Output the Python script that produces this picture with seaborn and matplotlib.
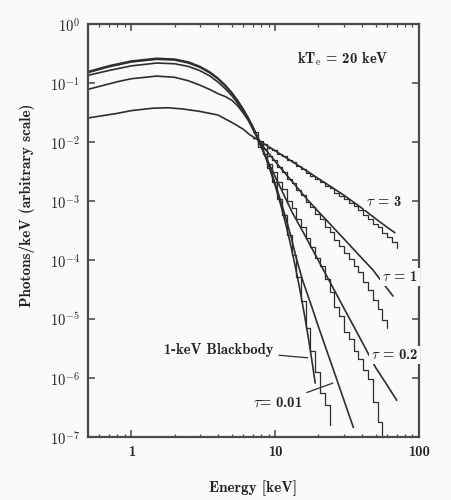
import matplotlib
matplotlib.use("Agg")
import matplotlib.pyplot as plt
import seaborn as sns
from matplotlib.ticker import LogLocator, NullLocator

# ---- smooth (analytic) spectra: energy [keV] vs photons/keV ----
bb_e = [0.5, 0.7, 1.0, 1.5, 2.0, 2.5, 3.0, 3.5, 4.0, 4.5, 5.0, 5.5, 6.0, 6.5, 7.0,
        7.5, 8.0, 9.0, 10.0, 11.0, 12.0, 13.0, 14.0, 15.0, 16.0, 17.0, 18.0, 19.0]
bb_v = [0.156, 0.196, 0.236, 0.262, 0.254, 0.227, 0.191, 0.155, 0.121, 0.0924,
        0.0689, 0.0504, 0.0363, 0.0258, 0.0182, 0.0126, 0.0087, 0.00406, 0.00184,
        8.2e-4, 3.6e-4, 1.55e-4, 6.6e-5, 2.8e-5, 1.17e-5, 4.9e-6, 2.0e-6, 8.2e-7]

t001_e = [0.5, 0.7, 1.0, 1.5, 2.0, 2.5, 3.0, 3.5, 4.0, 4.5, 5.0, 5.5, 6.0, 6.5, 7.0,
          7.5, 8.0, 9.0, 10.0, 11.0, 12.0, 13.0, 14.0, 15.5, 18.0, 20.0, 25.0,
          30.0, 35.0]
t001_v = [0.150, 0.188, 0.227, 0.252, 0.245, 0.218, 0.184, 0.149, 0.117, 0.089,
          0.067, 0.049, 0.0355, 0.0252, 0.018, 0.0125, 0.0088, 0.0042, 0.0020,
          9.6e-4, 4.7e-4, 2.3e-4, 1.1e-4, 4.6e-5, 1.6e-5, 7.4e-6, 1.55e-6,
          4.3e-7, 1.45e-7]

t02_e = [0.5, 0.7, 1.0, 1.5, 2.0, 2.5, 3.0, 3.5, 4.0, 4.5, 5.0, 5.5, 6.0, 6.5, 7.0,
         7.5, 8.0, 10.0, 13.2, 16.0, 20.0, 25.0, 30.0, 35.0, 42.0, 50.0, 60.0, 70.0]
t02_v = [0.135, 0.163, 0.195, 0.218, 0.212, 0.191, 0.162, 0.1325, 0.104, 0.0804,
         0.061, 0.0454, 0.033, 0.0237, 0.017, 0.0118, 0.0082, 0.0026, 6.3e-4,
         2.7e-4, 9.8e-5, 3.55e-5, 1.54e-5, 7.7e-6, 3.35e-6, 1.5e-6, 7.6e-7, 4.2e-7]

t1_e = [0.5, 0.8, 1.0, 1.5, 2.0, 2.5, 3.0, 3.5, 4.0, 4.5, 5.0, 5.5, 6.0, 6.5, 7.0,
        7.5, 8.0, 10.0, 13.0, 16.85, 20.0, 25.0, 30.0, 40.0, 47.8, 56.0, 66.0]
t1_v = [0.078, 0.105, 0.118, 0.131, 0.125, 0.109, 0.092, 0.078, 0.066, 0.059,
        0.051, 0.041, 0.031, 0.0235, 0.0165, 0.0122, 0.0092, 0.0047, 0.0022,
        1.04e-3, 6.6e-4, 3.7e-4, 2.3e-4, 1.08e-4, 6.8e-5, 4.1e-5, 2.45e-5]

t3_e = [0.5, 0.8, 1.0, 1.4, 1.8, 2.3, 3.0, 4.0, 5.0, 6.0, 6.6, 7.67, 10.0, 15.0,
        20.0, 30.0, 40.0, 50.0, 60.0, 68.0]
t3_v = [0.0255, 0.0306, 0.034, 0.0373, 0.0381, 0.0362, 0.033, 0.0287, 0.0215,
        0.0165, 0.0135, 0.0107, 7.1e-3, 3.8e-3, 2.4e-3, 1.26e-3, 7.6e-4, 5.0e-4,
        3.6e-4, 2.9e-4]

# ---- Monte Carlo histograms: bin edges [keV]; last value closes the line ----
mc_edges = [7.0, 7.6, 8.2, 8.8, 9.5, 10.3, 11.1, 12.0, 13.0, 14.0, 15.1, 16.3,
            17.6, 19.0, 20.5, 22.1, 23.9, 25.8, 27.9, 30.1, 32.5, 35.1, 37.9,
            40.9, 44.2, 47.7, 51.5, 55.6, 60.0, 64.8, 70.0]
mc_t3 = [1.175e-2, 1.023e-2, 9.33e-3, 7.94e-3, 7.41e-3, 6.31e-3, 5.75e-3, 4.90e-3,
         4.57e-3, 3.89e-3, 3.55e-3, 3.02e-3, 2.69e-3, 2.34e-3, 2.14e-3, 1.78e-3,
         1.66e-3, 1.38e-3, 1.20e-3, 1.07e-3, 9.33e-4, 8.13e-4, 6.92e-4, 5.75e-4,
         5.01e-4, 4.07e-4, 3.63e-4, 2.82e-4, 2.45e-4, 2.0e-4, 1.58e-4]
mc_t1 = [1.175e-2, 9.12e-3, 7.59e-3, 5.75e-3, 4.90e-3, 3.72e-3, 3.16e-3, 2.40e-3,
         2.0e-3, 1.55e-3, 1.26e-3, 9.55e-4, 7.94e-4, 6.03e-4, 4.90e-4, 3.63e-4,
         3.02e-4, 2.19e-4, 1.74e-4, 1.29e-4, 1.05e-4, 7.94e-5, 6.17e-5, 4.27e-5,
         3.16e-5, 2.09e-5, 1.48e-5, 9.55e-6, 7.08e-6]
mc_t02 = [1.175e-2, 8.13e-3, 6.31e-3, 4.27e-3, 3.16e-3, 2.14e-3, 1.58e-3, 1.0e-3,
          7.59e-4, 5.01e-4, 3.63e-4, 2.34e-4, 1.66e-4, 1.10e-4, 7.94e-5, 4.68e-5,
          2.82e-5, 1.58e-5, 1.12e-5, 6.03e-6, 4.57e-6, 2.82e-6, 2.09e-6, 1.38e-6,
          9.55e-7, 3.98e-7, 1.78e-7, 5e-8]
mc_t001 = [1.45e-2, 9.33e-3, 6.17e-3, 3.63e-3, 2.09e-3, 1.07e-3, 5.75e-4, 2.63e-4,
           1.20e-4, 5.25e-5, 2.0e-5, 7.08e-6, 2.82e-6, 1.26e-6, 5.62e-7, 3.55e-7,
           1.58e-7]

xticks = [1, 10, 100]
xtick_labels = ["1", "10", "100"]
yticks = [1e0, 1e-1, 1e-2, 1e-3, 1e-4, 1e-5, 1e-6, 1e-7]
ytick_labels = [r"$10^{0}$", r"$10^{-1}$", r"$10^{-2}$", r"$10^{-3}$",
                r"$10^{-4}$", r"$10^{-5}$", r"$10^{-6}$", r"$10^{-7}$"]

sns.set_style("ticks")
plt.rcParams["font.family"] = ["cmb10", "DejaVu Serif"]
plt.rcParams["mathtext.fontset"] = "cm"
plt.rcParams["axes.unicode_minus"] = False
plt.rcParams["axes.formatter.use_mathtext"] = True

BG = "#fafaf8"
LINE = "#2e2e2e"

fig = plt.figure(figsize=(4.51, 5.0), dpi=100, facecolor=BG)
ax = fig.add_axes([0.195, 0.126, 0.734, 0.826])
ax.set_facecolor(BG)
ax.set_xscale("log")
ax.set_yscale("log")

for e, v in [(bb_e, bb_v), (t001_e, t001_v), (t02_e, t02_v), (t1_e, t1_v), (t3_e, t3_v)]:
    sns.lineplot(x=e, y=v, ax=ax, color=LINE, lw=1.2, estimator=None, sort=False)

# histograms are drawn as stairs from the bin edges
for vals in [mc_t3, mc_t1, mc_t02, mc_t001]:
    sns.lineplot(x=mc_edges[:len(vals)], y=vals, ax=ax, color=LINE, lw=0.9,
                 estimator=None, sort=False, drawstyle="steps-post")

ax.set_xlim(0.5, 100)
ax.set_ylim(1e-7, 1)
ax.set_xticks(xticks, xtick_labels)
ax.set_yticks(yticks, ytick_labels)
ax.xaxis.set_minor_locator(LogLocator(base=10, subs=range(2, 10)))
ax.yaxis.set_minor_locator(NullLocator())
ax.tick_params(which="both", direction="in", top=True, right=True, colors="#444444",
               labelcolor="#222222", labelsize=10.5)
ax.tick_params(which="major", length=5, width=1.1, pad=6)
ax.tick_params(which="minor", length=2.5, width=0.9)
for s in ax.spines.values():
    s.set_color("#4a4a4a")
    s.set_linewidth(1.6)

ax.set_xlabel("Energy [keV]", fontsize=11, color="#222222")
ax.set_ylabel("Photons/keV (arbitrary scale)", fontsize=11, color="#222222")
ax.xaxis.set_label_coords(0.5, -0.105)
ax.yaxis.set_label_coords(-0.16, 0.56)

txt = dict(fontsize=10.5, color="#222222")
ax.text(0.77, 0.915, r"kT$_{\rm e}$ = 20 keV", transform=ax.transAxes, ha="center",
        va="center", **txt)
ax.text(0.894, 0.569, r"$\tau$ = 3", transform=ax.transAxes, ha="center", va="center",
        bbox=dict(facecolor=BG, edgecolor="none", pad=1), **txt)
ax.text(0.997, 0.387, r"$\tau$ = 1", transform=ax.transAxes, ha="right", va="center",
        bbox=dict(facecolor=BG, edgecolor="none", pad=1.5), **txt)
ax.text(0.997, 0.199, r"$\tau$ = 0.2", transform=ax.transAxes, ha="right", va="center",
        bbox=dict(facecolor=BG, edgecolor="none", pad=1.5), **txt)
ax.annotate(r"$\tau$= 0.01", xy=(25.2, 8.2e-7), xytext=(0.647, 0.082),
            textcoords="axes fraction", ha="right", va="center",
            arrowprops=dict(arrowstyle="-", lw=0.9, color=LINE, shrinkA=1, shrinkB=0), **txt)
ax.annotate("1-keV Blackbody", xy=(16.85, 2.2e-6), xytext=(0.559, 0.211),
            textcoords="axes fraction", ha="right", va="center",
            arrowprops=dict(arrowstyle="-", lw=0.9, color=LINE, shrinkA=2, shrinkB=0), **txt)

fig.savefig("out.png", dpi=100, facecolor=BG)
